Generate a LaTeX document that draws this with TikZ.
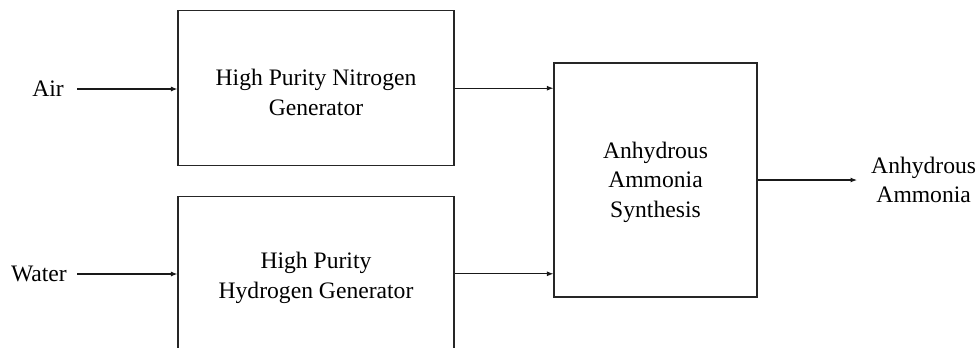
\documentclass[tikz,border=0pt]{standalone}
\usepackage{fontspec}
\setmainfont{Liberation Serif}
\usetikzlibrary{arrows.meta}
\begin{document}
\begin{tikzpicture}[x=1bp,y=-1bp,
  every node/.style={font=\fontsize{23.7}{29.5}\selectfont, text=black},
  blockbox/.style={draw=black!85, line width=1.1bp, rectangle, align=center, inner sep=0pt},
  lbl/.style={align=center, inner sep=0pt},
  arr/.style={draw=black!90, line width=1.1bp, -{Latex[length=6.5bp,width=5bp]}}]
\useasboundingbox (0,0) rectangle (980,347);
\clip (0,0) rectangle (980,347);
\node[blockbox, minimum width=276bp, minimum height=155bp] (N) at (316,88.2) {\rule{0pt}{24.5bp}High Purity Nitrogen\\Generator};
\node[blockbox, minimum width=276bp, minimum height=155bp] (H) at (316,273.8) {\rule{0pt}{24.5bp}High Purity\\Hydrogen Generator};
\node[blockbox, minimum width=203bp, minimum height=234bp] (S) at (655.5,180) {\rule{0pt}{20.5bp}Anhydrous\\Ammonia\\Synthesis};
\node[lbl, anchor=east, inner xsep=13bp] (air) at (77,89) {Air};
\node[lbl, anchor=east, inner xsep=10bp] (water) at (77,274) {Water};
\node[lbl, anchor=west, inner xsep=14bp] (out) at (857,180) {Anhydrous\\Ammonia};
\draw[arr] (air.east) -- (air.east -| N.west);
\draw[arr] (water.east) -- (water.east -| H.west);
\draw[arr] (N.east) -- (N.east -| S.west);
\draw[arr] (H.east) -- (H.east -| S.west);
\draw[arr] (S.east) -- (out.west);
\end{tikzpicture}
\end{document}
